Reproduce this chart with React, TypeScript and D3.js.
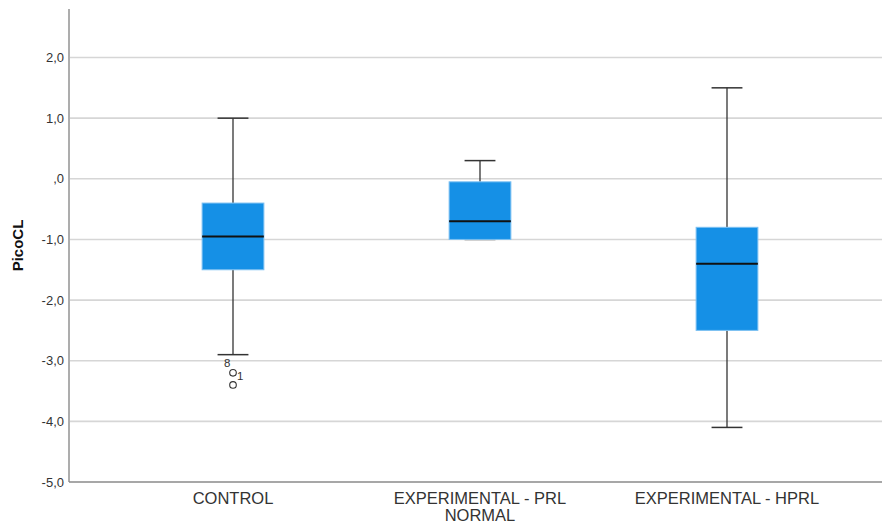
import React from "react";
import * as d3 from "d3";

// Groups and their box-plot summaries (PicoCL)
const categories = ["CONTROL", "EXPERIMENTAL - PRL NORMAL", "EXPERIMENTAL - HPRL"];
const labelLines = [["CONTROL"], ["EXPERIMENTAL - PRL", "NORMAL"], ["EXPERIMENTAL - HPRL"]];
const whiskerLow = [-2.9, -1.0, -4.1];
const q1 = [-1.5, -1.0, -2.5];
const median = [-0.95, -0.7, -1.4];
const q3 = [-0.4, -0.05, -0.8];
const whiskerHigh = [1.0, 0.3, 1.5];

// Outlying cases: group index, value, case labels
const outlierGroup = [0, 0];
const outlierValue = [-3.2, -3.4];
const outlierLabel = [["8", "1"], []];

const yTicks = [2, 1, 0, -1, -2, -3, -4, -5];
const yDomain: [number, number] = [-5, 2.8];
const yTitle = "PicoCL";

const W = 882;
const H = 526;
const margin = { left: 69, top: 9, bottom: 44 };
const FONT = "'Liberation Sans', Arial, sans-serif";

const fmtLocale = d3.formatLocale({ decimal: ",", thousands: ".", grouping: [3], currency: ["", ""], minus: "-" });
const fmt1 = fmtLocale.format(".1f");
const tickText = (d: number) => (d === 0 ? ",0" : fmt1(d));

export default function App() {
  const plotBottom = H - margin.bottom;
  const y = d3.scaleLinear().domain(yDomain).range([plotBottom, margin.top]);
  const x = d3.scalePoint<string>().domain(categories).range([233, 727]);
  const step = x.step();
  const boxW = step * 0.25;
  const capW = boxW / 2;

  return (
    <svg width={W} height={H} style={{ position: "absolute", left: 0, top: 0, background: "#fff" }}>
      <rect x={0} y={0} width={W} height={H} fill="#fff" />
      {/* grid */}
      {yTicks.slice(0, -1).map((t) => (
        <line key={t} x1={margin.left + 1} x2={W} y1={y(t)} y2={y(t)} stroke="#d6d6d6" strokeWidth={1.6} />
      ))}
      {/* axes */}
      <line x1={margin.left} x2={margin.left} y1={margin.top} y2={plotBottom} stroke="#8a8a8a" strokeWidth={1.4} />
      <line x1={margin.left} x2={W} y1={plotBottom} y2={plotBottom} stroke="#8a8a8a" strokeWidth={1.4} />
      {yTicks.map((t) => (
        <text key={t} x={margin.left - 5} y={y(t)} dy="0.35em" textAnchor="end" fontFamily={FONT} fontSize={13} fill="#333">
          {tickText(t)}
        </text>
      ))}
      <text
        transform={`translate(23,${(margin.top + plotBottom) / 2}) rotate(-90)`}
        textAnchor="middle"
        fontFamily={FONT}
        fontSize={15}
        fontWeight="bold"
        fill="#111"
      >
        {yTitle}
      </text>
      {/* category labels */}
      {categories.map((c, i) => (
        <text key={c} fontFamily={FONT} fontSize={16.5} fill="#333" textAnchor="middle">
          {labelLines[i].map((l, j) => (
            <tspan key={j} x={x(c) as number} y={plotBottom + 22 + j * 17}>
              {l}
            </tspan>
          ))}
        </text>
      ))}
      {/* boxes */}
      {categories.map((c, i) => {
        const cx = x(c) as number;
        return (
          <g key={c}>
            <line x1={cx} x2={cx} y1={y(whiskerHigh[i])} y2={y(q3[i])} stroke="#333" strokeWidth={1.3} />
            <line x1={cx} x2={cx} y1={y(q1[i])} y2={y(whiskerLow[i])} stroke="#333" strokeWidth={1.3} />
            <line x1={cx - capW / 2} x2={cx + capW / 2} y1={y(whiskerHigh[i])} y2={y(whiskerHigh[i])} stroke="#333" strokeWidth={1.5} />
            <line x1={cx - capW / 2} x2={cx + capW / 2} y1={y(whiskerLow[i])} y2={y(whiskerLow[i])} stroke="#333" strokeWidth={1.5} />
            <rect
              x={cx - boxW / 2}
              y={y(q3[i])}
              width={boxW}
              height={y(q1[i]) - y(q3[i])}
              fill="#1590e6"
              stroke="#7cc0f2"
              strokeWidth={1}
            />
            <line x1={cx - boxW / 2} x2={cx + boxW / 2} y1={y(median[i])} y2={y(median[i])} stroke="#111" strokeWidth={2} />
          </g>
        );
      })}
      {/* outliers */}
      {outlierValue.map((v, k) => {
        const cx = x(categories[outlierGroup[k]]) as number;
        const cy = y(v);
        const labs = outlierLabel[k];
        return (
          <g key={k}>
            <circle cx={cx} cy={cy} r={3.3} fill="none" stroke="#333" strokeWidth={1.1} />
            {labs[0] && (
              <text x={cx - 9} y={cy - 6} fontFamily={FONT} fontSize={11.5} fill="#333">
                {labs[0]}
              </text>
            )}
            {labs[1] && (
              <text x={cx + 4} y={cy + 7} fontFamily={FONT} fontSize={11.5} fill="#333">
                {labs[1]}
              </text>
            )}
          </g>
        );
      })}
    </svg>
  );
}
